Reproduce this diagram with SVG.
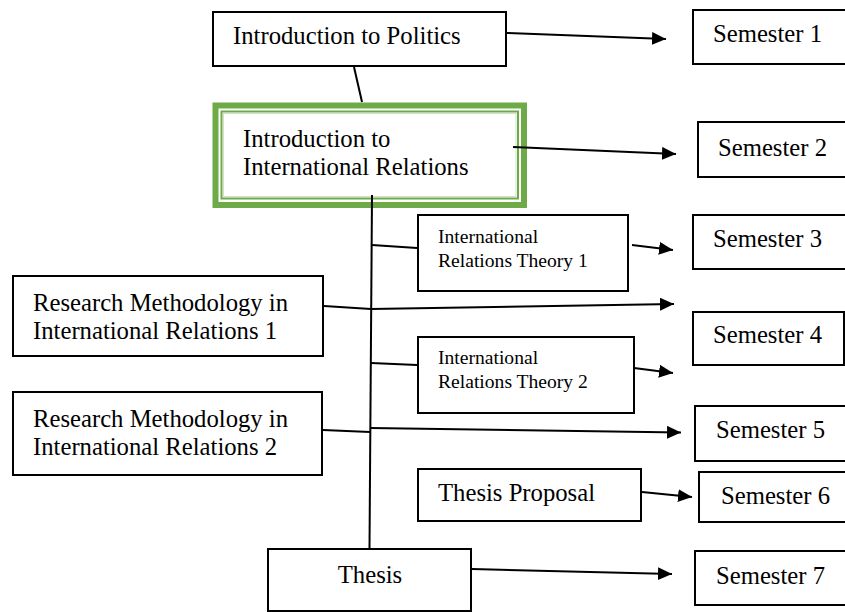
<svg xmlns="http://www.w3.org/2000/svg" width="845" height="612" viewBox="0 0 845 612">
<defs>
<style>
.box{fill:#fff;stroke:#000;stroke-width:2}
.t{font-family:"Liberation Serif","Times New Roman",serif;font-size:24.7px;fill:#000}
.s{font-family:"Liberation Serif","Times New Roman",serif;font-size:19.6px;fill:#000}
.c{fill:none;stroke:#000;stroke-width:2}
.a{fill:none;stroke:#000;stroke-width:2;marker-end:url(#ah)}
</style>
<marker id="ah" markerUnits="userSpaceOnUse" markerWidth="15" markerHeight="13" refX="14" refY="6.5" orient="auto">
<path d="M0,0 L14,6.5 L0,13 z" fill="#000"/>
</marker>
</defs>
<rect width="845" height="612" fill="#fff"/>
<g id="intro-politics">
<rect class="box" x="213" y="12" width="293" height="54"/>
<text class="t" x="233" y="44">Introduction to Politics</text>
</g>
<g id="semester1">
<rect class="box" x="693" y="10" width="170" height="54"/>
<text class="t" x="713" y="42">Semester 1</text>
</g>
<g id="intro-ir">
<rect x="215.5" y="105.5" width="308.5" height="99.5" fill="#fff" stroke="#6eab48" stroke-width="6"/>
<rect x="221.5" y="111.5" width="296.5" height="87" fill="none" stroke="#6eab48" stroke-width="2"/>
<rect x="223.5" y="113.5" width="292.5" height="83" fill="none" stroke="#cfe3c2" stroke-width="1"/>
<text class="t" x="243" y="147">Introduction to</text>
<text class="t" x="243" y="175">International Relations</text>
</g>
<g id="semester2">
<rect class="box" x="698" y="122" width="170" height="55"/>
<text class="t" x="718" y="156">Semester 2</text>
</g>
<g id="irt1">
<rect class="box" x="418" y="215" width="210" height="76"/>
<text class="s" x="438" y="243">International</text>
<text class="s" x="438" y="267">Relations Theory 1</text>
</g>
<g id="semester3">
<rect class="box" x="693" y="215" width="170" height="54"/>
<text class="t" x="713" y="247">Semester 3</text>
</g>
<g id="rm1">
<rect class="box" x="13" y="276" width="310" height="80"/>
<text class="t" x="33" y="311">Research Methodology in</text>
<text class="t" x="33" y="339">International Relations 1</text>
</g>
<g id="semester4">
<rect class="box" x="693" y="312" width="151" height="53"/>
<text class="t" x="713" y="343">Semester 4</text>
</g>
<g id="irt2">
<rect class="box" x="418" y="337" width="216" height="76"/>
<text class="s" x="438" y="364">International</text>
<text class="s" x="438" y="388">Relations Theory 2</text>
</g>
<g id="rm2">
<rect class="box" x="13" y="392" width="309" height="83"/>
<text class="t" x="33" y="427">Research Methodology in</text>
<text class="t" x="33" y="455">International Relations 2</text>
</g>
<g id="semester5">
<rect class="box" x="695" y="406" width="170" height="55"/>
<text class="t" x="716" y="438">Semester 5</text>
</g>
<g id="thesis-proposal">
<rect class="box" x="418" y="469" width="223" height="52"/>
<text class="t" x="438" y="501">Thesis Proposal</text>
</g>
<g id="semester6">
<rect class="box" x="699" y="472" width="170" height="50"/>
<text class="t" x="721" y="504">Semester 6</text>
</g>
<g id="thesis">
<rect class="box" x="268" y="549" width="203" height="62"/>
<text class="t" x="370" y="583" text-anchor="middle">Thesis</text>
</g>
<g id="semester7">
<rect class="box" x="695" y="551" width="170" height="54"/>
<text class="t" x="716" y="584">Semester 7</text>
</g>
<g id="connectors">
<line class="c" x1="354" y1="67" x2="362" y2="102"/>
<line class="c" x1="372" y1="195" x2="369.5" y2="548"/>
<line class="a" x1="507" y1="33" x2="666" y2="39"/>
<line class="a" x1="513" y1="147" x2="676" y2="154"/>
<line class="c" x1="372" y1="245" x2="417" y2="248"/>
<line class="a" x1="632" y1="245" x2="673" y2="250"/>
<line class="c" x1="324" y1="306" x2="371" y2="309"/>
<line class="a" x1="371" y1="309" x2="674" y2="304"/>
<line class="c" x1="371" y1="363" x2="417" y2="365"/>
<line class="a" x1="634" y1="368" x2="673" y2="373"/>
<line class="c" x1="323" y1="430" x2="370" y2="432"/>
<line class="a" x1="370" y1="428" x2="681" y2="432.5"/>
<line class="a" x1="642" y1="492" x2="692" y2="497"/>
<line class="a" x1="472" y1="569" x2="672" y2="574"/>
</g>
</svg>
